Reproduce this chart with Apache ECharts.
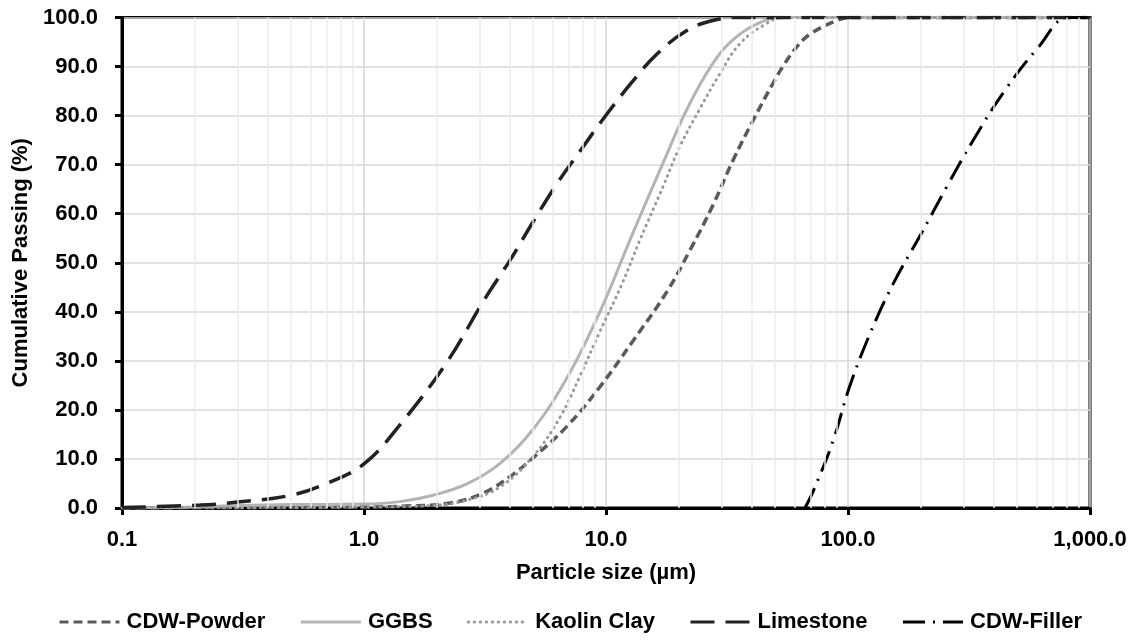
<!DOCTYPE html>
<html>
<head>
<meta charset="utf-8">
<script src="https://cdn.jsdelivr.net/npm/echarts@6/dist/echarts.min.js"></script>
<style>
  html, body { margin: 0; padding: 0; background: #fff; }
  #chart { width: 1140px; height: 640px; }
</style>
</head>
<body>
<div id="chart"></div>
<script>
// Particle size distributions: [size in µm, cumulative passing %]
const cdwPowder = [
  [0.1, 0], [0.5, 0.1], [1.0, 0.2], [1.5, 0.4], [2.26, 1.0], [3.1, 3.0], [4.01, 6.4],
  [4.99, 10.2], [6.88, 16.6], [9.44, 24.7], [12.9, 34.0], [17.8, 44.0], [22.2, 52.5],
  [27.7, 61.8], [33.5, 70.9], [40.5, 79.0], [49.0, 86.6], [53.8, 90.0], [61.4, 94.0],
  [69.7, 96.6], [89.8, 99.4], [102, 100], [1000, 100]
];
const ggbs = [
  [0.1, 0], [0.2, 0.2], [0.3, 0.5], [0.5, 0.7], [1.0, 0.8], [1.41, 1.3], [1.93, 2.6],
  [2.66, 4.9], [3.65, 9.1], [4.99, 16.0], [6.89, 26.5], [9.44, 40.0], [12.9, 56.0],
  [17.8, 72.0], [21.5, 81.1], [27.7, 90.7], [34.7, 96.1], [46.1, 99.5], [55, 100], [1000, 100]
];
const kaolinClay = [
  [0.1, 0], [0.5, 0.1], [1.0, 0.2], [1.93, 0.5], [2.66, 1.6], [3.65, 4.3], [4.99, 10.5],
  [6.46, 18.5], [7.82, 27.0], [9.44, 36.0], [11.6, 45.5], [13.8, 54.6],
  [17.2, 65.5], [20.2, 73.7], [24.5, 81.5], [29.6, 88.6], [35.8, 94.7], [46.1, 98.8],
  [53.8, 100], [1000, 100]
];
const limestone = [
  [0.1, 0.1], [0.21, 0.6], [0.3, 1.2], [0.5, 2.6], [0.7, 5.0], [1.0, 9.0], [1.41, 17.0],
  [2.22, 30.0], [3.1, 42.0], [4.07, 51.0], [4.99, 58.3], [6.25, 66.0], [7.82, 72.8],
  [9.8, 79.5], [12.6, 86.4], [16.2, 92.5], [21.5, 97.3], [27.6, 99.4], [35, 100], [1000, 100]
];
const cdwFiller = [
  [66.4, 0], [71.9, 3.5], [86.5, 13.5], [101, 24.4], [122, 35.0], [154, 45.8], [199, 55.6],
  [256, 65.5], [332, 75.3], [443, 85.0], [611, 93.9], [813, 100], [1000, 100]
];

const seriesNames = ['CDW-Powder', 'GGBS', 'Kaolin Clay', 'Limestone', 'CDW-Filler'];
const yTicks = { min: 0, max: 100, step: 10 };
const xRange = { min: 0.1, max: 1000 };

// Minor vertical grid lines (2..9 within each decade)
const minorGrid = [];
for (let d = 0.1; d < xRange.max; d *= 10) {
  for (let k = 2; k <= 9; k++) minorGrid.push(+(d * k).toPrecision(3));
}

const FONT = "'Liberation Sans', Arial, sans-serif";
const textStyle = { fontFamily: FONT, fontWeight: 'bold', fontSize: 22, color: '#000' };

function lineSeries(name, data, color, width, dash, cap) {
  return {
    name, type: 'line', data,
    symbol: 'none', showSymbol: false,
    smooth: 0.4,
    z: 3,
    lineStyle: { color, width, type: dash, cap: cap || 'butt' },
    itemStyle: { color }
  };
}

const chart = echarts.init(document.getElementById('chart'), null, { renderer: 'canvas' });
chart.setOption({
  animation: false,
  backgroundColor: '#fff',
  textStyle: { fontFamily: FONT },
  grid: {
    left: 122, right: 50, top: 17.5, bottom: 132,
    show: true, borderColor: '#000', borderWidth: 3, backgroundColor: 'transparent'
  },
  legend: {
    data: seriesNames,
    bottom: 2, left: 'center',
    itemWidth: 60, itemHeight: 14, itemGap: 34,
    itemStyle: { color: 'rgba(0,0,0,0)', borderWidth: 0, borderColor: 'rgba(0,0,0,0)' },
    lineStyle: { width: 3 },
    textStyle: Object.assign({}, textStyle, { padding: [0, 0, 0, 2] })
  },
  xAxis: {
    type: 'log', logBase: 10, min: xRange.min, max: xRange.max,
    name: 'Particle size (µm)', nameLocation: 'middle', nameGap: 54,
    nameTextStyle: textStyle,
    axisLine: { show: true, onZero: false, lineStyle: { color: '#000', width: 3 } },
    axisTick: { show: true, length: 7, lineStyle: { color: '#000', width: 3 } },
    axisLabel: Object.assign({}, textStyle, {
      margin: 21,
      formatter: v => Number(v).toLocaleString('en-US', { minimumFractionDigits: 1, maximumFractionDigits: 1 })
    }),
    splitLine: { show: true, lineStyle: { color: '#d6d6d6', width: 1.5 } }
  },
  yAxis: {
    type: 'value', min: yTicks.min, max: yTicks.max, interval: yTicks.step,
    name: 'Cumulative Passing (%)', nameLocation: 'middle', nameGap: 88,
    nameTextStyle: textStyle,
    axisLine: { show: true, lineStyle: { color: '#000', width: 3 } },
    axisTick: { show: true, length: 7, lineStyle: { color: '#000', width: 3 } },
    axisLabel: Object.assign({}, textStyle, {
      margin: 24,
      formatter: v => Number(v).toFixed(1)
    }),
    splitLine: { show: true, lineStyle: { color: '#d9d9d9', width: 1.5 } }
  },
  series: [
    {
      type: 'line', data: [], silent: true, z: 1,
      markLine: {
        silent: true, symbol: 'none', animation: false,
        label: { show: false },
        lineStyle: { color: '#ececec', type: 'solid', width: 1.5 },
        emphasis: { disabled: true },
        data: minorGrid.map(v => ({ xAxis: v }))
      }
    },
    lineSeries('CDW-Powder', cdwPowder, '#5a5a5a', 3.5, [9, 5]),
    lineSeries('GGBS', ggbs, '#b4b4b4', 3),
    lineSeries('Kaolin Clay', kaolinClay, '#9a9a9a', 3, [0.5, 5.5], 'round'),
    lineSeries('Limestone', limestone, '#222222', 3.5, [24, 11]),
    lineSeries('CDW-Filler', cdwFiller, '#000000', 3, [22, 8, 2, 8])
  ]
});
</script>
</body>
</html>
